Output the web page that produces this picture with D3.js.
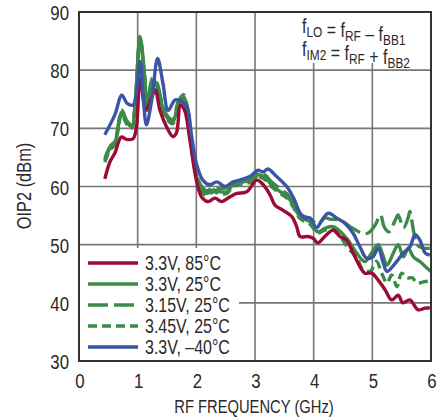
<!DOCTYPE html>
<html><head><meta charset="utf-8">
<script src="https://cdn.jsdelivr.net/npm/d3@7"></script>
<style>
body{margin:0;background:#fff;}
text{font-family:"Liberation Sans",Arial,sans-serif;fill:#2a2a2a;}
</style></head><body>
<svg id="c" width="445" height="420"></svg>
<script>
// ---- data ----
const xTicks = [0,1,2,3,4,5,6];
const yTicks = [30,40,50,60,70,80,90];
const seriesNames = ["3.3V, 85°C","3.3V, 25°C","3.15V, 25°C","3.45V, 25°C","3.3V, –40°C"];

const f85 = [0.44,0.53,0.61,0.72,0.81,0.92,0.98,1.04,1.14,1.24,1.30,1.38,1.49,1.60,1.66,1.73,1.80,1.89,2.00,2.09,2.20,2.32,2.43,2.57,2.69,2.86,3.03,3.14,3.26,3.34,3.48,3.63,3.71,3.77,3.90,3.99,4.07,4.19,4.33,4.45,4.56,4.67,4.79,4.87,4.99,5.10,5.22,5.33,5.44,5.52,5.64,5.78,5.90,5.98];
const v85 = [61.3,64.3,65.7,68.5,68.1,68.2,70.3,78.6,73.1,75.4,76.6,73.1,70.3,68.6,69.2,74.0,73.1,68.0,61.1,58.2,57.4,58.0,57.4,58.2,58.8,59.1,61.1,60.3,58.5,56.8,55.9,54.8,53.1,51.4,51.4,51.1,50.3,51.4,52.5,51.4,50.8,48.6,46.2,45.1,45.1,43.9,42.2,40.5,41.3,40.0,40.5,38.8,39.1,39.1];

const fM40 = [0.44,0.61,0.73,0.82,0.92,1.04,1.09,1.15,1.24,1.34,1.43,1.52,1.64,1.75,1.84,1.92,2.00,2.11,2.23,2.35,2.49,2.63,2.74,2.91,3.05,3.14,3.22,3.37,3.54,3.65,3.77,3.85,3.94,4.05,4.14,4.25,4.39,4.53,4.67,4.79,4.90,5.01,5.10,5.18,5.25,5.39,5.53,5.64,5.73,5.81,5.90,5.98];
const vM40 = [68.9,72.3,75.7,74.3,74.0,81.5,76.0,70.6,74.9,82.0,77.8,73.1,74.9,74.6,73.7,68.6,64.0,61.1,60.3,60.8,60.0,60.8,61.1,61.7,62.8,62.5,63.0,61.7,60.0,58.2,55.4,54.6,54.6,52.9,54.2,55.4,54.6,53.7,52.0,49.6,47.7,47.9,49.4,47.1,45.4,46.8,48.6,49.6,51.7,50.8,48.6,48.2];

const f25 = [0.44,0.53,0.61,0.73,0.81,0.90,0.95,1.04,1.12,1.16,1.25,1.32,1.41,1.49,1.60,1.69,1.78,1.86,1.95,2.06,2.17,2.29,2.40,2.52,2.63,2.80,2.97,3.05,3.17,3.28,3.43,3.56,3.65,3.77,3.94,4.07,4.19,4.33,4.48,4.62,4.73,4.87,4.99,5.10,5.18,5.25,5.36,5.44,5.53,5.61,5.70,5.81,5.93,6.00];
const v25 = [64.5,66.6,67.5,72.8,71.1,70.3,73.1,85.8,78.9,73.1,78.2,77.7,74.2,72.0,71.1,74.2,75.4,72.6,64.5,60.0,58.8,59.4,59.1,59.1,60.3,60.8,61.1,62.0,61.5,60.3,59.1,58.2,56.8,54.8,53.9,52.2,52.8,53.1,52.0,50.3,48.6,47.1,48.6,50.0,48.2,46.5,48.6,50.0,47.9,49.4,47.9,47.1,46.0,45.4];

const f315 = [0.44,0.53,0.61,0.73,0.81,0.90,0.95,1.04,1.12,1.16,1.25,1.32,1.41,1.49,1.60,1.69,1.78,1.86,1.95,2.06,2.17,2.29,2.40,2.52,2.63,2.80,2.97,3.05,3.17,3.28,3.43,3.56,3.65,3.77,3.94,4.07,4.19,4.28,4.45,4.62,4.82,4.93,5.05,5.14,5.20,5.28,5.39,5.44,5.53,5.61,5.64,5.70,5.76,5.87,5.98];
const v315 = [64.8,66.9,67.8,73.1,71.4,70.6,73.5,85.2,78.5,73.6,78.6,78.0,74.6,72.4,71.5,74.6,75.8,73.0,65.0,60.5,59.3,59.8,59.6,59.8,60.6,61.2,61.6,62.4,62.0,60.8,59.6,58.6,57.2,55.2,54.5,53.5,54.6,54.4,54.2,53.1,52.0,52.0,53.4,55.1,53.1,52.2,54.2,55.1,52.9,54.6,55.7,52.5,50.0,49.4,49.4];

const f345 = [0.44,0.53,0.61,0.73,0.81,0.90,0.95,1.04,1.12,1.16,1.25,1.32,1.41,1.49,1.60,1.69,1.78,1.86,1.95,2.06,2.17,2.29,2.40,2.52,2.63,2.80,2.97,3.05,3.17,3.28,3.43,3.56,3.65,3.77,3.94,4.07,4.19,4.33,4.48,4.62,4.73,4.82,4.96,5.07,5.16,5.25,5.33,5.42,5.50,5.59,5.68,5.76,5.87,5.98];
const v345 = [64.2,66.3,67.2,72.5,70.8,70.0,72.8,85.5,78.6,72.8,77.9,77.4,73.9,71.7,70.8,73.9,75.1,72.3,64.2,59.7,58.5,59.1,58.8,58.8,60.0,60.5,60.8,61.7,61.2,60.0,58.8,57.9,56.5,54.5,53.5,52.0,52.5,52.6,51.0,49.0,48.0,46.0,45.4,47.1,45.1,43.4,44.8,42.8,45.1,44.3,44.3,43.4,43.6,43.8];

const colors = ["#9a0b35","#3b8a48","#3b8a48","#3b8a48","#3a55a6"];
const dashes = [null,null,"20,6","9,5",null];

// ---- layout ----
const svg = d3.select("#c");
const x = d3.scaleLinear().domain([0,6]).range([79,431]);
const y = d3.scaleLinear().domain([30,90]).range([361,12]);
const SX = 0.82; // narrow condensed look

function txt(parent, px, py, str, size, anchor, rot){
  const gg = parent.append("g").attr("transform",`translate(${px},${py})${rot?` rotate(${rot})`:""} scale(${SX},1)`);
  return gg.append("text").attr("x",0).attr("y",0).attr("font-size",size).attr("text-anchor",anchor||"start").text(str);
}

// gridlines
const g = svg.append("g");
g.selectAll("line.v").data(xTicks.slice(1,-1)).join("line")
  .attr("x1",d=>x(d)).attr("x2",d=>x(d)).attr("y1",y(90)).attr("y2",y(30))
  .attr("stroke","#777").attr("stroke-width",1.6);
g.selectAll("line.h").data(yTicks.slice(1,-1)).join("line")
  .attr("x1",x(0)).attr("x2",x(6)).attr("y1",d=>y(d)).attr("y2",d=>y(d))
  .attr("stroke","#777").attr("stroke-width",1.6);

// annotation box
svg.append("rect").attr("x",299).attr("y",y(90)).attr("width",x(6)-299).attr("height",51).attr("fill","#fff");

// curves
const data = [
  {f:f345,v:v345,i:3},{f:f315,v:v315,i:2},{f:f25,v:v25,i:1},{f:f85,v:v85,i:0},{f:fM40,v:vM40,i:4}
];
const line = d3.line().x(d=>x(d[0])).y(d=>y(d[1])).curve(d3.curveCatmullRom.alpha(0.5));
data.forEach(s=>{
  svg.append("path").attr("d",line(s.f.map((f,k)=>[f,s.v[k]])))
    .attr("fill","none").attr("stroke",colors[s.i]).attr("stroke-width",3.4)
    .attr("stroke-linejoin","round")
    .attr("stroke-dasharray",dashes[s.i]);
});

// legend
svg.append("rect").attr("x",x(0)+1).attr("y",248).attr("width",159).attr("height",y(30)-249).attr("fill","#fff");
const lg = svg.append("g");
seriesNames.forEach((n,i)=>{
  const yy = 263 + i*21;
  lg.append("line").attr("x1",88).attr("x2",138).attr("y1",yy).attr("y2",yy)
    .attr("stroke",colors[i]).attr("stroke-width",3.4).attr("stroke-dasharray",dashes[i]);
  txt(lg,145,yy+7,n,19.5,"start");
});

// frame
svg.append("rect").attr("x",x(0)).attr("y",y(90)).attr("width",x(6)-x(0)).attr("height",y(30)-y(90))
  .attr("fill","none").attr("stroke","#333").attr("stroke-width",2);

// axes tick labels (positions from the scales)
const ax = svg.append("g");
xTicks.forEach(t=>txt(ax, x(t)+1, 388, d3.format("d")(t), 20.5, "middle"));
const ay = svg.append("g");
yTicks.forEach(t=>txt(ay, x(0)-10, y(t)+8, d3.format("d")(t), 20.5, "end"));

// axis titles
txt(svg, 254, 413, "RF FREQUENCY (GHz)", 18, "middle");
txt(svg, 31, 186, "OIP2 (dBm)", 20, "middle", -90);

// annotation
function ann(py, parts){
  const gg = svg.append("g").attr("transform",`translate(302,${py}) scale(${SX},1)`);
  const t = gg.append("text").attr("x",0).attr("y",0).attr("font-size",19.5);
  parts.forEach(([s,sub])=>{
    if(sub) t.append("tspan").attr("font-size",14.5).attr("dy",4).text(s);
    else t.append("tspan").attr("dy",t.node().lastChild && t.node().lastChild.getAttribute("font-size")?-4:0).text(s);
  });
}
ann(33,[["f"],["LO",1],[" = f"],["RF",1],[" – f"],["BB1",1]]);
ann(56,[["f"],["IM2",1],[" = f"],["RF",1],[" + f"],["BB2",1]]);
</script>
</body></html>
